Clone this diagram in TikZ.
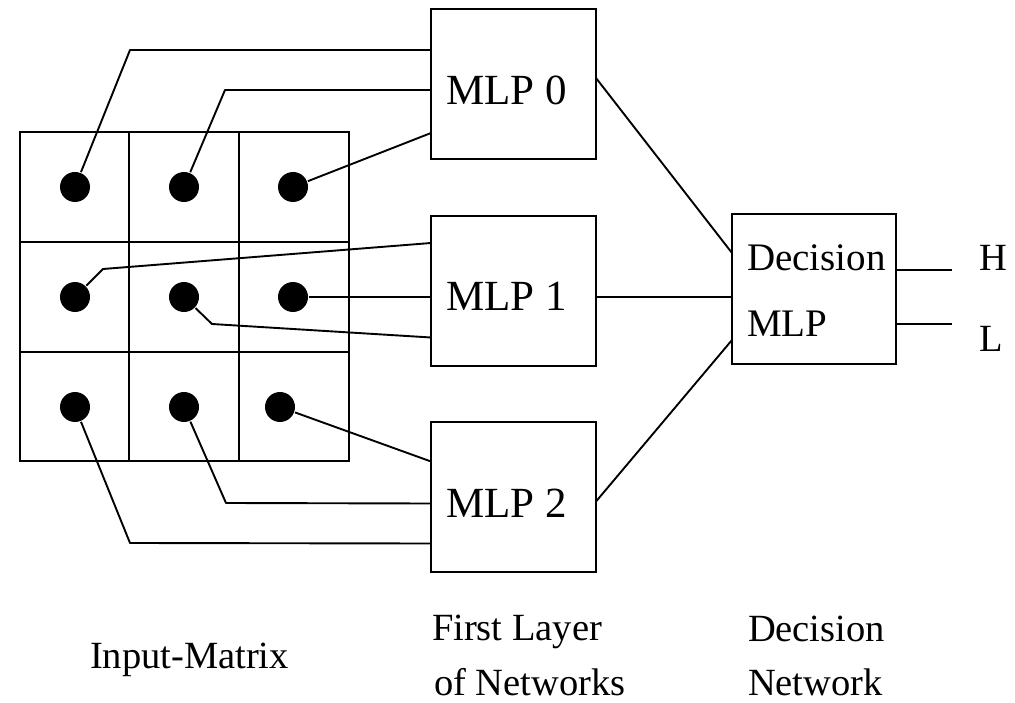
\documentclass[tikz,border=0pt]{standalone}
\usepackage{fontspec}
\setmainfont{Liberation Serif}
\usetikzlibrary{calc}
\begin{document}
\begin{tikzpicture}[x=1pt,y=-1pt,line width=2pt,
  dot/.style={circle,fill=black,draw=none,minimum size=30pt,inner sep=0pt},
  mlpbox/.style={draw,rectangle,minimum width=165pt,minimum height=150pt,inner sep=0pt,outer sep=0pt},
  bigtxt/.style={anchor=base west,inner sep=0pt,font=\fontsize{43}{50}\selectfont},
  midtxt/.style={anchor=base west,inner sep=0pt,font=\fontsize{39}{47}\selectfont},
  captxt/.style={anchor=base west,inner sep=0pt,font=\fontsize{38.5}{46}\selectfont},
  wire/.style={line width=1.9pt,line join=round}]
\useasboundingbox (0,0) rectangle (1015,703);
% input matrix grid
\draw (20,132) rectangle (349,461);
\draw (129,132) -- (129,461);
\draw (239,132) -- (239,461);
\draw (20,242) -- (349,242);
\draw (20,352) -- (349,352);
% dots
\node[dot] (d11) at (75,187) {};
\node[dot] (d12) at (184,187) {};
\node[dot] (d13) at (293,187) {};
\node[dot] (d21) at (75,297) {};
\node[dot] (d22) at (184,297) {};
\node[dot] (d23) at (293,297) {};
\node[dot] (d31) at (75,407) {};
\node[dot] (d32) at (184,407) {};
\node[dot] (d33) at (280,407) {};
% MLP boxes
\node[mlpbox] (m0) at (513.5,84) {};
\node[mlpbox] (m1) at (513.5,291) {};
\node[mlpbox] (m2) at (513.5,496.5) {};
\node[bigtxt] (t0) at (445,105) {MLP 0};
\node[bigtxt] (t1) at (445,311) {MLP 1};
\node[bigtxt] (t2) at (445,517) {MLP 2};
% decision box
\node[mlpbox,minimum width=164pt] (dec) at (814,289) {};
\node[midtxt] (tdec) at (746,271) {Decision};
\node[midtxt] (tmlp) at (746,337) {MLP};
% outputs
\node[captxt] (th) at (978,271) {H};
\node[captxt] (tl) at (978,352) {L};
% connections to MLP 0
\draw[wire] (d11) -- (130,50) -- ($(m0.north west)+(0,41)$);
\draw[wire] (d12) -- (225,90) -- ($(m0.north west)+(0,81)$);
\draw[wire] (d13) -- ($(m0.north west)+(0,124)$);
% connections to MLP 1
\draw[wire] (d21) -- (103,269) -- ($(m1.north west)+(0,27)$);
\draw[wire] (d23) -- ($(m1.north west)+(0,81)$);
\draw[wire] (d22) -- (212,324) -- ($(m1.north west)+(0,121.5)$);
% connections to MLP 2
\draw[wire] (d33) -- ($(m2.north west)+(0,40)$);
\draw[wire] (d32) -- (226,503) -- ($(m2.north west)+(0,82)$);
\draw[wire] (d31) -- (130,543) -- ($(m2.north west)+(0,122)$);
% to decision
\draw[wire] ($(m0.north east)+(0,69)$) -- ($(dec.north west)+(0,39)$);
\draw[wire] ($(m1.north east)+(0,81)$) -- ($(dec.north west)+(0,83)$);
\draw[wire] ($(m2.north east)+(0,80)$) -- ($(dec.north west)+(0,126)$);
\draw[wire] ($(dec.north east)+(0,56)$) -- ++(56,0) coordinate (hend);
\draw[wire] ($(dec.north east)+(0,110)$) -- ++(56,0) coordinate (lend);
% captions
\node[captxt] (cin) at (89,668) {Input-Matrix};
\node[captxt] (cf1) at (431,640) {First Layer};
\node[captxt] (cf2) at (433,695) {of Networks};
\node[captxt] (cd1) at (747,641) {Decision};
\node[captxt] (cd2) at (747,695) {Network};
\end{tikzpicture}
\end{document}
